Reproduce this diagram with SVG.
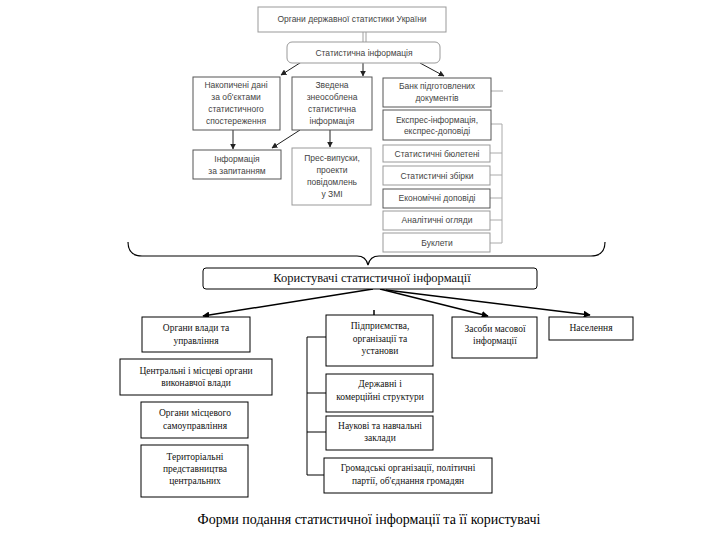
<svg xmlns="http://www.w3.org/2000/svg" width="720" height="540" viewBox="0 0 720 540">
<style>
.bg{fill:#fff}
.tb{fill:#fff;stroke:#555;stroke-width:1}
.tl{fill:#fff;stroke:#999;stroke-width:1}
.bb{fill:#fff;stroke:#000;stroke-width:1}
.st{font-family:"Liberation Sans",Arial,sans-serif;font-size:8.5px;fill:#444;text-anchor:middle}
.sr{font-family:"Liberation Serif","Times New Roman",serif;font-size:9.5px;fill:#111;text-anchor:middle}
.cn{fill:none;stroke:#222;stroke-width:1}
.cb{fill:none;stroke:#000;stroke-width:1.5}
.br{fill:none;stroke:#aaa;stroke-width:1}
</style>
<defs>
<marker id="a1" viewBox="0 0 10 10" refX="9" refY="5" markerWidth="6" markerHeight="6" orient="auto" markerUnits="userSpaceOnUse"><path d="M0,0 L10,5 L0,10 z" fill="#222"/></marker>
<marker id="a2" viewBox="0 0 10 10" refX="9" refY="5" markerWidth="7" markerHeight="7" orient="auto" markerUnits="userSpaceOnUse"><path d="M0,0 L10,5 L0,10 z" fill="#000"/></marker>
</defs>
<rect class="bg" width="720" height="540"/>

<g id="connectors">
<line x1="363" y1="32" x2="363" y2="42" stroke="#888" stroke-width="0.8"/>
<line x1="366" y1="32" x2="366" y2="42" stroke="#888" stroke-width="0.8"/>
<line class="cn" x1="303" y1="61" x2="281" y2="75" marker-end="url(#a1)"/>
<line class="cn" x1="363" y1="63" x2="363" y2="76" marker-end="url(#a1)"/>
<line class="cn" x1="420" y1="63" x2="444" y2="76" marker-end="url(#a1)"/>
<line class="cn" x1="233" y1="130" x2="233" y2="149" marker-end="url(#a1)"/>
<line class="cn" x1="330" y1="130" x2="330" y2="147" marker-end="url(#a1)"/>
<line class="cn" x1="300" y1="130" x2="272" y2="148" marker-end="url(#a1)"/>
<path class="br" d="M491,91 H503 M491,124 H502 V243 M490,153 H502 M490,175 H502 M490,198 H502 M490,220 H502 M490,243 H502"/>
<path fill="none" stroke="#000" stroke-width="1.2" d="M128,242 Q128,256 142,256 H357 Q366,256 368,265 Q370,256 379,256 H591 Q605,256 605,242"/>
<line class="cb" x1="373" y1="289" x2="203" y2="316" marker-end="url(#a2)"/>
<line class="cb" x1="374" y1="310" x2="374" y2="335" marker-end="url(#a2)"/>
<line class="cb" x1="380" y1="289" x2="488" y2="316" marker-end="url(#a2)"/>
<line class="cb" x1="386" y1="290" x2="590" y2="315" marker-end="url(#a2)"/>
<path fill="none" stroke="#000" stroke-width="1" d="M326,337 H307 V475 H324 M307,393 H326 M307,432 H326"/>
</g>

<g id="n-organy-derzh"><rect class="tl" x="258" y="7" width="188" height="25"/><text class="st" x="352" y="22">Органи державної статистики України</text></g>
<g id="n-stat-info"><rect class="tl" x="287" y="42" width="153" height="21" rx="5"/><text class="st" x="364" y="56">Статистична інформація</text></g>
<g id="n-nakopycheni"><rect class="tb" x="193" y="77" width="87" height="53"/><text class="st" x="236" y="88">Накопичені дані</text><text class="st" x="236" y="100">за об'єктами</text><text class="st" x="236" y="112">статистичного</text><text class="st" x="236" y="124">спостереження</text></g>
<g id="n-zvedena"><rect class="tb" x="292" y="77" width="80" height="53"/><text class="st" x="332" y="88">Зведена</text><text class="st" x="332" y="100">знеособлена</text><text class="st" x="332" y="112">статистична</text><text class="st" x="332" y="124">інформація</text></g>
<g id="n-info-zapyt"><rect class="tb" x="193" y="150" width="88" height="29"/><text class="st" x="237" y="162">Інформація</text><text class="st" x="237" y="174">за запитанням</text></g>
<g id="n-pres"><rect class="tl" x="292" y="148" width="79" height="57"/><text class="st" x="332" y="161">Прес-випуски,</text><text class="st" x="332" y="173">проекти</text><text class="st" x="332" y="185">повідомлень</text><text class="st" x="332" y="197">у ЗМІ</text></g>
<g id="n-bank"><rect class="tb" x="383" y="78" width="108" height="29"/><text class="st" x="437" y="89">Банк підготовлених</text><text class="st" x="437" y="101">документів</text></g>
<g id="n-ekspres"><rect class="tb" x="383" y="110" width="108" height="30"/><text class="st" x="437" y="123">Експрес-інформація,</text><text class="st" x="437" y="134">експрес-доповіді</text></g>
<g id="n-biuleteni"><rect class="tl" x="383" y="145" width="107" height="17"/><text class="st" x="437" y="157">Статистичні бюлетені</text></g>
<g id="n-zbirky"><rect class="tl" x="383" y="166" width="107" height="19"/><text class="st" x="437" y="179">Статистичні збірки</text></g>
<g id="n-ekonom"><rect class="tb" x="383" y="189" width="107" height="19"/><text class="st" x="437" y="201">Економічні доповіді</text></g>
<g id="n-analit"><rect class="tl" x="383" y="211" width="107" height="19"/><text class="st" x="437" y="223">Аналітичні огляди</text></g>
<g id="n-buklety"><rect class="tl" x="383" y="233" width="107" height="19"/><text class="st" x="437" y="246">Буклети</text></g>

<g id="n-korystuvachi"><rect class="bb" x="203" y="268" width="334" height="21" rx="3"/><text class="sr" x="372" y="282" style="font-size:12.5px">Користувачі статистичної інформації</text></g>
<g id="n-organy-vlady"><rect class="bb" x="142" y="317" width="108" height="35"/><text class="sr" x="196" y="331">Органи влади та</text><text class="sr" x="196" y="344">управління</text></g>
<g id="n-tsentr"><rect class="bb" x="120" y="359" width="152" height="36"/><text class="sr" x="196" y="374">Центральні і місцеві органи</text><text class="sr" x="196" y="386">виконавчої влади</text></g>
<g id="n-samovr"><rect class="bb" x="141" y="402" width="107" height="36"/><text class="sr" x="195" y="416">Органи місцевого</text><text class="sr" x="195" y="429">самоуправління</text></g>
<g id="n-terytor"><rect class="bb" x="141" y="445" width="107" height="52"/><text class="sr" x="195" y="460">Територіальні</text><text class="sr" x="195" y="472">представництва</text><text class="sr" x="195" y="484">центральних</text></g>
<g id="n-pidpr"><rect class="bb" x="326" y="315" width="107" height="51"/><text class="sr" x="380" y="329">Підприємства,</text><text class="sr" x="380" y="342">організації та</text><text class="sr" x="380" y="354">установи</text></g>
<g id="n-derzh"><rect class="bb" x="326" y="374" width="107" height="38"/><text class="sr" x="380" y="387">Державні і</text><text class="sr" x="380" y="400">комерційні структури</text></g>
<g id="n-nauk"><rect class="bb" x="326" y="416" width="107" height="34"/><text class="sr" x="380" y="429">Наукові та навчальні</text><text class="sr" x="380" y="441">заклади</text></g>
<g id="n-hromad"><rect class="bb" x="324" y="458" width="168" height="35"/><text class="sr" x="408" y="471">Громадські організації, політичні</text><text class="sr" x="408" y="484">партії, об'єднання громадян</text></g>
<g id="n-zmi"><rect class="bb" x="452" y="317" width="85" height="41"/><text class="sr" x="495" y="332">Засоби масової</text><text class="sr" x="495" y="344">інформації</text></g>
<g id="n-naselennia"><rect class="bb" x="549" y="317" width="84" height="23"/><text class="sr" x="591" y="331">Населення</text></g>

<text x="369" y="524" style="font-family:'Liberation Serif','Times New Roman',serif;font-size:14px;fill:#000;text-anchor:middle">Форми подання статистичної інформації та її користувачі</text>
</svg>
